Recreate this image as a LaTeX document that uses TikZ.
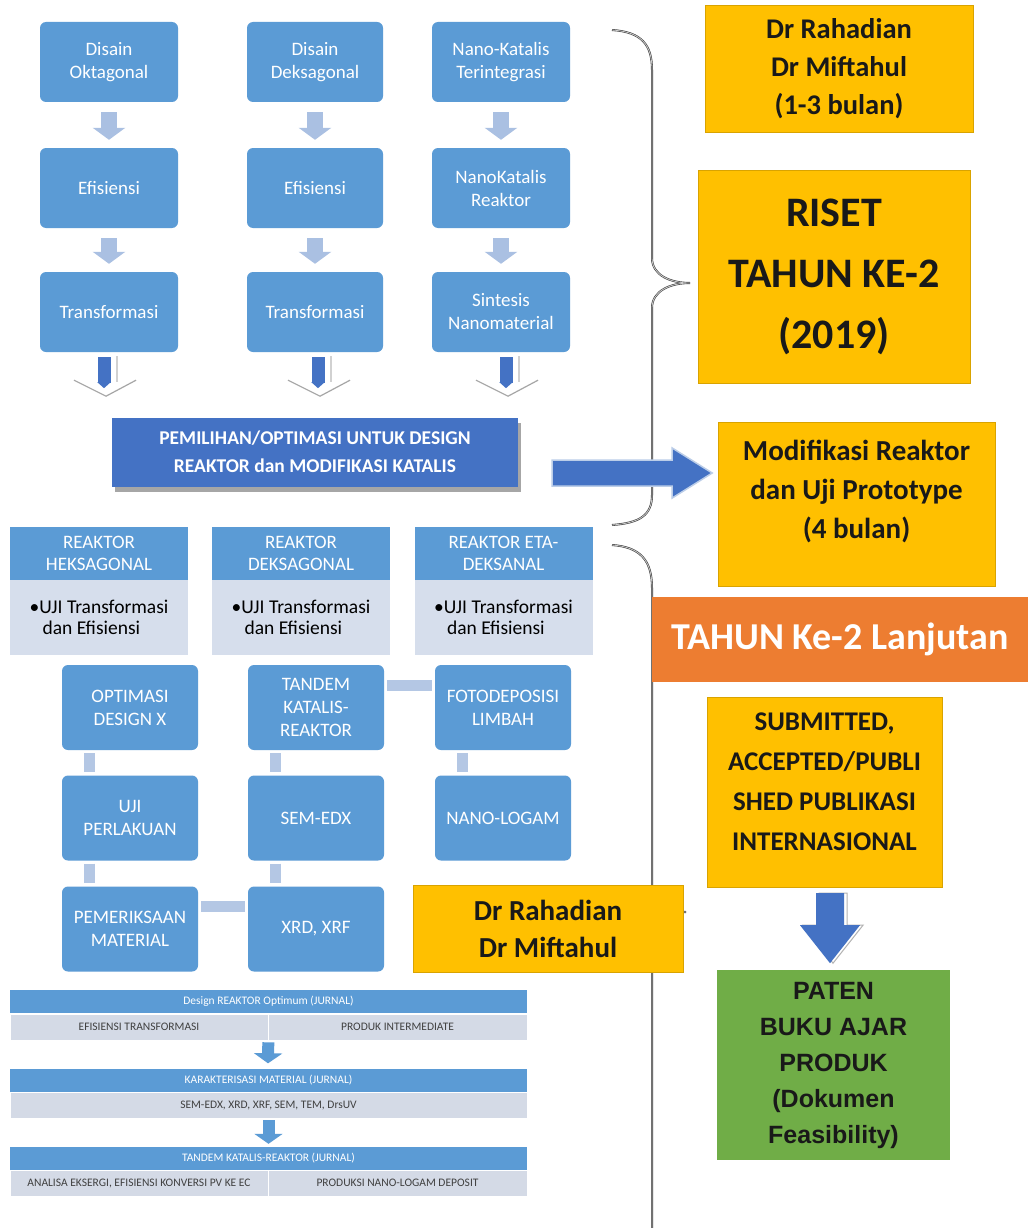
\documentclass[tikz,border=0pt]{standalone}
\usepackage{fontspec}
\setmainfont{Carlito}
\newfontfamily\arialfont{Liberation Sans}
\usetikzlibrary{arrows.meta,calc,shadows}
\definecolor{bxblue}{RGB}{91,155,213}
\definecolor{dkblue}{RGB}{68,114,196}
\definecolor{ltarrow}{RGB}{170,192,226}
\definecolor{connc}{RGB}{180,199,228}
\definecolor{ltbody}{RGB}{214,222,236}
\definecolor{ltband}{RGB}{212,218,230}
\definecolor{gold}{RGB}{255,192,0}
\definecolor{orng}{RGB}{237,125,49}
\definecolor{grn}{RGB}{112,173,71}
\newcommand\myfs[2]{\fontsize{#1}{#2}\selectfont}
\begin{document}
\begin{tikzpicture}[x=1pt,y=-1pt,
  bbox/.style={rounded corners=6pt, fill=bxblue, text=white, align=center, inner sep=0pt, font=\myfs{19}{23}},
  gbox/.style={rounded corners=6pt, fill=bxblue, text=white, align=center, inner sep=0pt, font=\myfs{19}{23}, minimum width=136pt, minimum height=85pt},
  larrow/.style={ltarrow, line width=16pt, -{Triangle[width=32pt,length=12pt]}},
  conn/.style={connc, line width=11pt, shorten >=3pt, shorten <=3pt},
  goldbox/.style={fill=gold, draw=gold!85!black, line width=0.4pt, inner sep=0pt, align=center, text=black!90},
  rhead/.style={fill=bxblue, text=white, align=center, inner sep=0pt, font=\myfs{19}{22}, minimum width=178pt, minimum height=53pt},
  rbody/.style={fill=ltbody, text=black, align=left, inner sep=0pt, font=\myfs{19.5}{21}, minimum width=178pt, minimum height=75pt},
  bandh/.style={fill=bxblue, text=white, inner sep=0pt, font=\myfs{11.5}{13}, minimum width=517pt, minimum height=23pt},
  bandb/.style={fill=ltband, draw=white, line width=0.6pt, text=black!75, inner sep=0pt, font=\myfs{11.5}{13}, minimum height=26pt},
  bracepath/.style={black!75, double=black!20, double distance=0.8pt, line width=0.6pt}
]
\useasboundingbox[fill=white] (0,0) rectangle (1028,1228);

% braces
\draw[bracepath] (612,30) .. controls (642,32) and (652,45) .. (652,70) -- (652,258)
  .. controls (652,275) and (670,283) .. (690,283) .. controls (670,283) and (652,291) .. (652,308)
  -- (652,495) .. controls (652,515) and (640,523) .. (612,525);
\draw[bracepath] (612,545) .. controls (640,547) and (652,560) .. (652,588) -- (652,890)
  .. controls (652,905) and (670,912) .. (686,912) .. controls (670,912) and (652,918) .. (652,935)
  -- (652,1228);

% top three columns
\node[bbox, minimum width=138pt, minimum height=80pt] (d1) at (109,62) {Disain\\Oktagonal};
\node[bbox, minimum width=136pt, minimum height=80pt] (d2) at (315,62) {Disain\\Deksagonal};
\node[bbox, minimum width=138pt, minimum height=80pt] (d3) at (501,62) {Nano-Katalis\\Terintegrasi};
\node[bbox, minimum width=138pt, minimum height=80pt] (e1) at (109,188) {Efisiensi};
\node[bbox, minimum width=136pt, minimum height=80pt] (e2) at (315,188) {Efisiensi};
\node[bbox, minimum width=138pt, minimum height=80pt] (e3) at (501,188) {NanoKatalis\\Reaktor};
\node[bbox, minimum width=138pt, minimum height=80pt] (t1) at (109,312) {Transformasi};
\node[bbox, minimum width=136pt, minimum height=80pt] (t2) at (315,312) {Transformasi};
\node[bbox, minimum width=138pt, minimum height=80pt] (t3) at (501,312) {Sintesis\\Nanomaterial};

\foreach \a/\b in {d1/e1,d2/e2,d3/e3,e1/t1,e2/t2,e3/t3}
  \draw[larrow] ($(\a.south)+(0,10)$) -- ($(\b.north)+(0,-8)$);

\foreach \n/\dx in {t1/-5,t2/3,t3/5}{
  \draw[black!35, line width=1.2pt] ($(\n.south)+(\dx-30,28)$) -- ($(\n.south)+(\dx+2,44)$) -- ($(\n.south)+(\dx+32,28)$);
  \draw[black!18, line width=1.2pt] ($(\n.south)+(\dx+13,4)$) -- ($(\n.south)+(\dx+13,30)$);
  \draw[dkblue, line width=13pt, -{Triangle[width=13pt,length=6pt]}] ($(\n.south)+(\dx,5)$) -- ($(\n.south)+(\dx,36)$);
}

% selection box
\node[fill=dkblue, text=white, align=center, inner sep=0pt, minimum width=406pt, minimum height=69pt,
  font=\myfs{19.5}{28}\bfseries, drop shadow={shadow xshift=3pt, shadow yshift=-5pt, fill=black!35, opacity=1}]
  (pm) at (315,452) {PEMILIHAN/OPTIMASI UNTUK DESIGN\\REAKTOR dan MODIFIKASI KATALIS};

% right column
\node[goldbox, minimum width=268pt, minimum height=127pt, font=\myfs{28.5}{38}\bfseries] (g1) at (839,68.5) {Dr Rahadian\\Dr Miftahul\\(1-3 bulan)};
\node[goldbox, minimum width=272pt, minimum height=213pt, font=\myfs{42}{61}\bfseries] (riset) at (834,276.5) {RISET\\TAHUN KE-2\\(2019)};
\node[goldbox, minimum width=277pt, minimum height=164pt] (mod) at (856.5,504) {};
\node[align=center, text=black!90, font=\myfs{29}{39}\bfseries] (modt) at ($(mod.center)+(0,-13)$) {Modifikasi Reaktor\\dan Uji Prototype\\(4 bulan)};

\coordinate (ra) at ($(pm.east)+(34,21)$);
\filldraw[fill=dkblue, draw=ltarrow!80, line width=1.5pt] (ra) ++(0,-13) -- ++(120,0) -- ++(0,-12) -- ++(40,25) -- ++(-40,25) -- ++(0,-12) -- ++(-120,0) -- cycle;

\node[fill=orng, text=white, inner sep=0pt, minimum width=376pt, minimum height=85pt, font=\myfs{38}{42}\bfseries] (tahun) at (840,639.5) {TAHUN Ke-2 Lanjutan};

\node[goldbox, minimum width=235pt, minimum height=190pt] (sub) at (824.5,792) {};
\node[align=center, text=black!90, font=\myfs{27}{40}\bfseries] (subt) at ($(sub.center)+(0,-10)$) {SUBMITTED,\\ACCEPTED/PUBLI\\SHED PUBLIKASI\\INTERNASIONAL};

\coordinate (da) at ($(sub.south)+(5.5,6)$);
\filldraw[fill=white, draw=black!30, line width=1pt] (da) ++(-11,0) -- ++(28,0) -- ++(0,32) -- ++(16,0) -- ++(-30,38) -- ++(-30,-38) -- ++(16,0) -- cycle;
\fill[dkblue] (da) ++(-14,0) -- ++(28,0) -- ++(0,32) -- ++(16,0) -- ++(-30,38) -- ++(-30,-38) -- ++(16,0) -- cycle;

\node[fill=grn, inner sep=0pt, align=center, text=black!90, minimum width=233pt, minimum height=190pt, font=\arialfont\bfseries\myfs{25}{36}] (pat) at (833.5,1065) {PATEN\\BUKU AJAR\\PRODUK\\(Dokumen\\Feasibility)};

% reaktor columns
\node[rhead] (rh1) at (99,553.5) {REAKTOR\\HEKSAGONAL};
\node[rhead] (rh2) at (301,553.5) {REAKTOR\\DEKSAGONAL};
\node[rhead] (rh3) at (503.5,553.5) {REAKTOR ETA-\\DEKSANAL};
\node[rbody] (rb1) at (99,617.5) {\textbullet UJI Transformasi\\\hphantom{\textbullet\,}dan Efisiensi};
\node[rbody] (rb2) at (301,617.5) {\textbullet UJI Transformasi\\\hphantom{\textbullet\,}dan Efisiensi};
\node[rbody] (rb3) at (503.5,617.5) {\textbullet UJI Transformasi\\\hphantom{\textbullet\,}dan Efisiensi};

% grid
\node[gbox] (o1) at (130,707.5) {OPTIMASI\\DESIGN X};
\node[gbox] (o2) at (316,707.5) {TANDEM\\KATALIS-\\REAKTOR};
\node[gbox] (o3) at (503,707.5) {FOTODEPOSISI\\LIMBAH};
\node[gbox] (u1) at (130,818) {UJI\\PERLAKUAN};
\node[gbox] (u2) at (316,818) {SEM-EDX};
\node[gbox] (u3) at (503,818) {NANO-LOGAM};
\node[gbox] (p1) at (130,929) {PEMERIKSAAN\\MATERIAL};
\node[gbox] (p2) at (316,929) {XRD, XRF};

\draw[conn] ($(o1.south west)+(28,0)$) -- ($(u1.north west)+(28,0)$);
\draw[conn] ($(u1.south west)+(28,0)$) -- ($(p1.north west)+(28,0)$);
\draw[conn] ($(o2.south west)+(28,0)$) -- ($(u2.north west)+(28,0)$);
\draw[conn] ($(u2.south west)+(28,0)$) -- ($(p2.north west)+(28,0)$);
\draw[conn] ($(o3.south west)+(28,0)$) -- ($(u3.north west)+(28,0)$);
\draw[conn] ($(o2.north east)+(0,21)$) -- ($(o3.north west)+(0,21)$);
\draw[conn] ($(p1.north east)+(0,20)$) -- ($(p2.north west)+(0,20)$);

\node[goldbox, minimum width=270pt, minimum height=87pt, font=\myfs{29}{37}\bfseries] (dr2) at (548,928.5) {Dr Rahadian\\Dr Miftahul};

% bottom bands
\node[bandh] (b1h) at (268.5,1001.5) {Design REAKTOR Optimum (JURNAL)};
\node[bandb, minimum width=258pt] (b1l) at (139,1027) {EFISIENSI TRANSFORMASI};
\node[bandb, minimum width=259pt] (b1r) at (397.5,1027) {PRODUK INTERMEDIATE};
\node[bandh] (b2h) at (268.5,1080) {KARAKTERISASI MATERIAL (JURNAL)};
\node[bandb, minimum width=517pt] (b2b) at (268.5,1105) {SEM-EDX, XRD, XRF, SEM, TEM, DrsUV};
\node[bandh] (b3h) at (268.5,1158.5) {TANDEM KATALIS-REAKTOR (JURNAL)};
\node[bandb, minimum width=258pt] (b3l) at (139,1183) {ANALISA EKSERGI, EFISIENSI KONVERSI PV KE EC};
\node[bandb, minimum width=259pt] (b3r) at (397.5,1183) {PRODUKSI NANO-LOGAM DEPOSIT};

\draw[bxblue, line width=12pt, -{Triangle[width=28pt,length=10pt]}] ($(b1l.south east)+(0,2)$) -- ($(b2h.north)+(-0.5,-5)$);
\draw[bxblue, line width=12pt, -{Triangle[width=28pt,length=10pt]}] ($(b2b.south)+(0,2)$) -- ($(b3h.north)+(0,-3)$);
\end{tikzpicture}
\end{document}
